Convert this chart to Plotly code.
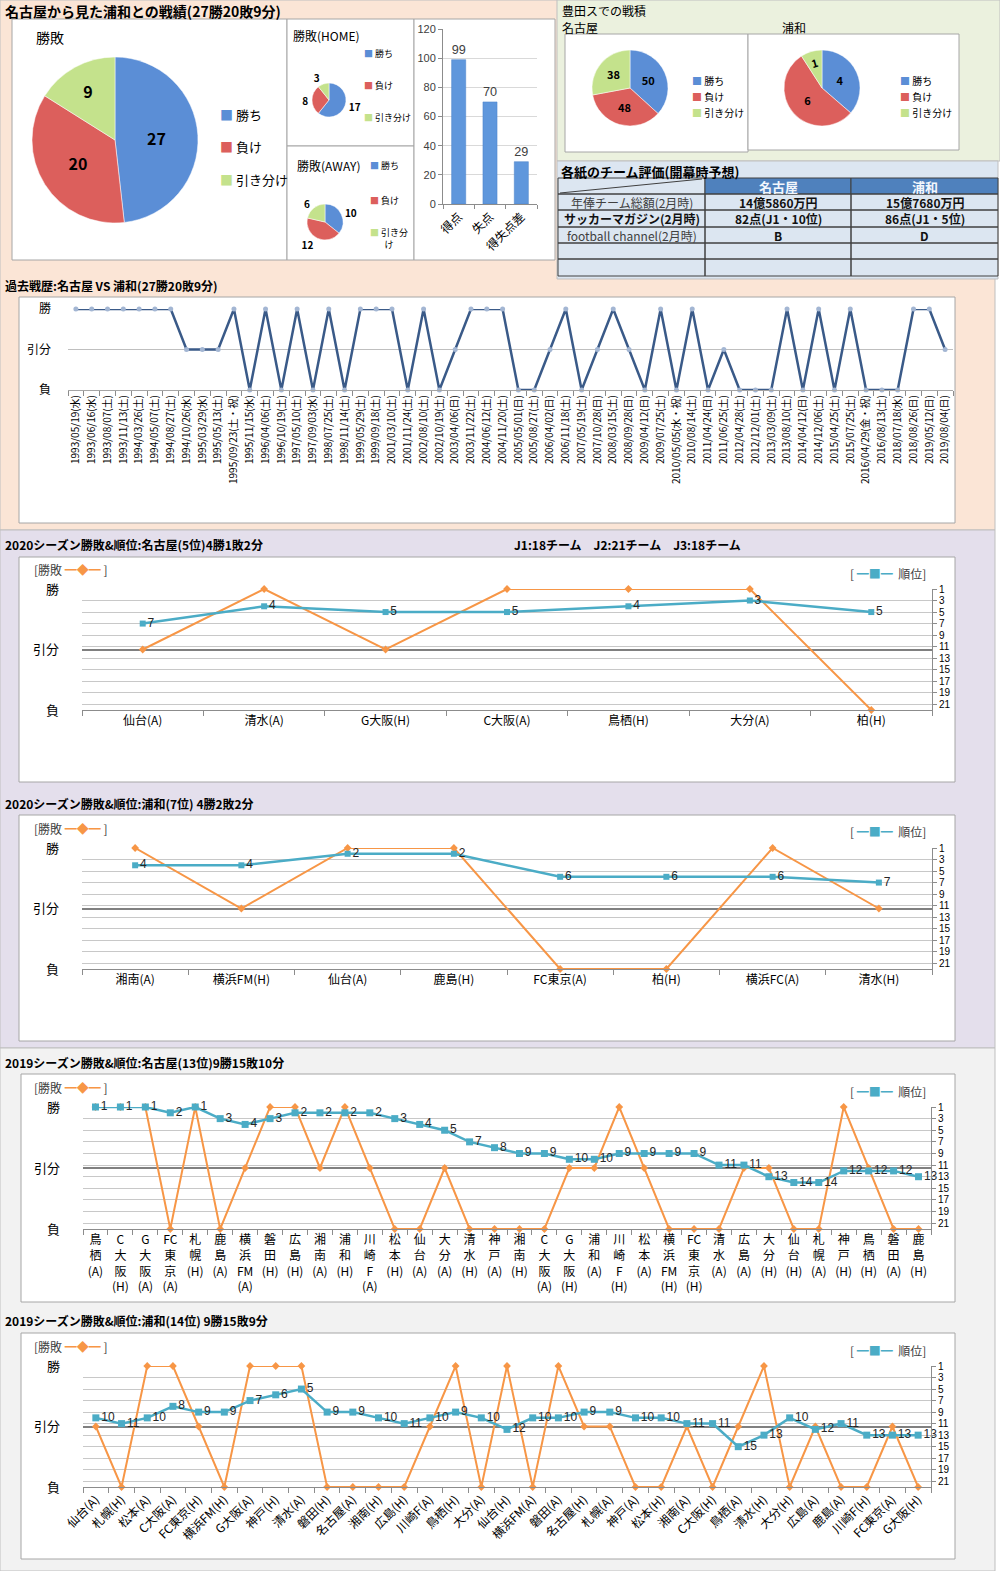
import plotly.graph_objects as go

# ---------------- data ----------------
result_labels = ["勝ち", "負け", "引き分け"]
total_counts = [27, 20, 9]
home_counts = [17, 8, 3]
away_counts = [10, 12, 6]

goal_categories = ["得点", "失点", "得失点差"]
goal_values = [99, 70, 29]

toyota_nagoya_counts = [50, 48, 38]
toyota_urawa_counts = [4, 6, 1]

table_header = ["", "名古屋", "浦和"]
table_row_labels = ["年俸チーム総額(2月時)", "サッカーマガジン(2月時)", "football channel(2月時)", "", ""]
table_nagoya = ["14億5860万円", "82点(J1・10位)", "B", "", ""]
table_urawa = ["15億7680万円", "86点(J1・5位)", "D", "", ""]

history_dates = [
    "1993/05/19(水)", "1993/06/16(水)", "1993/08/07(土)", "1993/11/13(土)", "1994/03/26(土)",
    "1994/05/07(土)", "1994/08/27(土)", "1994/10/26(水)", "1995/03/29(水)", "1995/05/13(土)",
    "1995/09/23(土・祝)", "1995/11/15(水)", "1996/04/06(土)", "1996/10/19(土)", "1997/05/10(土)",
    "1997/09/03(水)", "1998/07/25(土)", "1998/11/14(土)", "1999/05/29(土)", "1999/09/18(土)",
    "2001/03/10(土)", "2001/11/24(土)", "2002/08/10(土)", "2002/10/19(土)", "2003/04/06(日)",
    "2003/11/22(土)", "2004/06/12(土)", "2004/11/20(土)", "2005/05/01(日)", "2005/08/27(土)",
    "2006/04/02(日)", "2006/11/18(土)", "2007/05/19(土)", "2007/10/28(日)", "2008/03/15(土)",
    "2008/09/28(日)", "2009/04/12(日)", "2009/07/25(土)", "2010/05/05(水・祝)", "2010/08/14(土)",
    "2011/04/24(日)", "2011/06/25(土)", "2012/04/28(土)", "2012/12/01(土)", "2013/03/09(土)",
    "2013/08/10(土)", "2014/04/12(日)", "2014/12/06(土)", "2015/04/25(土)", "2015/07/25(土)",
    "2016/04/29(金・祝)", "2016/08/13(土)", "2018/07/18(水)", "2018/08/26(日)", "2019/05/12(日)",
    "2019/08/04(日)",
]
history_results = [
    "勝", "勝", "勝", "勝", "勝", "勝", "勝", "分", "分", "分",
    "勝", "負", "勝", "負", "勝", "負", "勝", "負", "勝", "勝",
    "勝", "負", "勝", "負", "分", "勝", "勝", "勝", "負", "負",
    "分", "勝", "負", "分", "勝", "分", "負", "勝", "負", "勝",
    "負", "分", "負", "負", "負", "勝", "負", "勝", "負", "勝",
    "負", "負", "負", "勝", "勝", "分",
]

nagoya2020_opponents = ["仙台(A)", "清水(A)", "G大阪(H)", "C大阪(A)", "鳥栖(H)", "大分(A)", "柏(H)"]
nagoya2020_results = ["分", "勝", "分", "勝", "勝", "勝", "負"]
nagoya2020_ranks = [7, 4, 5, 5, 4, 3, 5]

urawa2020_opponents = ["湘南(A)", "横浜FM(H)", "仙台(A)", "鹿島(H)", "FC東京(A)", "柏(H)", "横浜FC(A)", "清水(H)"]
urawa2020_results = ["勝", "分", "勝", "勝", "負", "負", "勝", "分"]
urawa2020_ranks = [4, 4, 2, 2, 6, 6, 6, 7]

nagoya2019_opponents = [
    "鳥栖(A)", "C大阪(H)", "G大阪(A)", "FC東京(A)", "札幌(H)", "鹿島(A)", "横浜FM(A)", "磐田(H)",
    "広島(H)", "湘南(A)", "浦和(H)", "川崎F(A)", "松本(H)", "仙台(A)", "大分(A)", "清水(H)",
    "神戸(A)", "湘南(H)", "C大阪(A)", "G大阪(H)", "浦和(A)", "川崎F(H)", "松本(A)", "横浜FM(H)",
    "FC東京(H)", "清水(A)", "広島(A)", "大分(H)", "仙台(H)", "札幌(A)", "神戸(H)", "鳥栖(H)",
    "磐田(A)", "鹿島(H)",
]
nagoya2019_results = [
    "勝", "勝", "勝", "負", "勝", "負", "分", "勝", "勝", "分", "勝", "分", "負", "負", "分", "負",
    "負", "負", "負", "分", "分", "勝", "分", "負", "負", "負", "分", "分", "負", "負", "勝", "分",
    "負", "負",
]
nagoya2019_ranks = [1, 1, 1, 2, 1, 3, 4, 3, 2, 2, 2, 2, 3, 4, 5, 7, 8, 9, 9, 10, 10, 9, 9, 9, 9,
                    11, 11, 13, 14, 14, 12, 12, 12, 13]

urawa2019_opponents = [
    "仙台(A)", "札幌(H)", "松本(A)", "C大阪(A)", "FC東京(H)", "横浜FM(H)", "G大阪(A)", "神戸(H)",
    "清水(A)", "磐田(H)", "名古屋(A)", "湘南(H)", "広島(H)", "川崎F(A)", "鳥栖(H)", "大分(A)",
    "仙台(H)", "横浜FM(A)", "磐田(A)", "名古屋(H)", "札幌(A)", "神戸(A)", "松本(H)", "湘南(A)",
    "C大阪(H)", "鳥栖(A)", "清水(H)", "大分(H)", "広島(A)", "鹿島(A)", "川崎F(H)", "FC東京(A)",
    "G大阪(H)",
]
urawa2019_results = [
    "分", "負", "勝", "勝", "分", "負", "勝", "勝", "勝", "負", "負", "負", "負", "分", "勝", "負",
    "勝", "負", "勝", "分", "分", "負", "負", "分", "負", "分", "勝", "負", "分", "負", "負", "分",
    "負",
]
urawa2019_ranks = [10, 11, 10, 8, 9, 9, 7, 6, 5, 9, 9, 10, 11, 10, 9, 10, 12, 10, 10, 9, 9, 10, 10,
                   11, 11, 15, 13, 10, 12, 11, 13, 13, 13]

result_axis_labels = ["負", "引分", "勝"]
RESULT_VALUE = {"勝": 1, "分": 0, "負": -1}

# ---------------- styling ----------------
W, H = 1000, 1571
FONT = "Noto Sans CJK JP, Noto Sans, sans-serif"
NUM_FONT = "Liberation Sans, Arial, sans-serif"
PIE_COLORS = ["#5B8ED6", "#DC5F5C", "#C4E28C"]
ORANGE = "#F79646"
TEAL = "#4BACC6"
AXIS_GRAY = "#8C8C8C"
GRID = "#C8C8C8"
DARK_GRID = "#808080"


def X(px):
    return px / W


def Y(py):
    return 1 - py / H


def ann(text, px, py, size=12, bold=False, color="#000000", xanchor="left", family=FONT):
    return dict(text=("<b>%s</b>" % text) if bold else text, x=X(px), y=Y(py),
                xref="paper", yref="paper", xanchor=xanchor, yanchor="middle",
                showarrow=False, font=dict(size=size, color=color, family=family))


def rect(x0, y0, x1, y1, fill, line="#A6A6A6", width=1, layer="below"):
    return dict(type="rect", xref="paper", yref="paper", x0=X(x0), x1=X(x1),
                y0=Y(y1), y1=Y(y0), fillcolor=fill, line=dict(color=line, width=width),
                layer=layer)


def stack_label(label):
    tokens, buf = [], ""
    for ch in label:
        if ord(ch) < 128:
            if ch == "(" and buf:
                tokens.append(buf)
                buf = ""
            buf += ch
        else:
            if buf:
                tokens.append(buf)
                buf = ""
            tokens.append(ch)
    if buf:
        tokens.append(buf)
    return "<br>".join(tokens)


fig = go.Figure()
shapes = []
annotations = []
layout_axes = {}

# ---------------- backgrounds ----------------
shapes.append(rect(0, 0, 995, 530, "#FBE5D6", line="#BFBFBF"))
shapes.append(rect(557, 0, 1000, 161, "#EBF1DE", line="#BFBFBF"))
shapes.append(rect(557, 161, 998, 279, "#DCE6F1", line="#BFBFBF"))
shapes.append(rect(0, 530, 995, 1048, "#E4DFEC", line="#BFBFBF"))
shapes.append(rect(0, 1048, 995, 1571, "#F2F2F2", line="#BFBFBF"))

shapes.append(rect(12, 19, 287, 260, "#FFFFFF"))
shapes.append(rect(287, 19, 414, 146, "#FFFFFF"))
shapes.append(rect(287, 146, 414, 260, "#FFFFFF"))
shapes.append(rect(414, 19, 555, 260, "#FFFFFF"))
shapes.append(rect(565, 34, 748, 152, "#FFFFFF"))
shapes.append(rect(748, 34, 959, 150, "#FFFFFF"))
shapes.append(rect(19, 297, 955, 523, "#FFFFFF"))
shapes.append(rect(19, 557, 955, 782, "#FFFFFF"))
shapes.append(rect(19, 815, 955, 1041, "#FFFFFF"))
shapes.append(rect(21, 1074, 955, 1302, "#FFFFFF"))
shapes.append(rect(21, 1333, 955, 1559, "#FFFFFF"))


# ---------------- pies ----------------
def add_pie(values, cx, cy, r, textsize, textpos="inside"):
    fig.add_trace(go.Pie(
        labels=result_labels, values=values, sort=False, direction="clockwise",
        marker=dict(colors=PIE_COLORS, line=dict(color="#FFFFFF", width=0.5)),
        texttemplate="<b>%{value}</b>", textposition=textpos,
        textfont=dict(size=textsize, color="#000000", family=FONT),
        domain=dict(x=[X(cx - r), X(cx + r)], y=[Y(cy + r), Y(cy - r)]),
        showlegend=False, hoverinfo="label+value", automargin=False,
    ))


add_pie(total_counts, 115, 140, 83, 16)
add_pie(home_counts, 329, 100, 17, 10, "outside")
add_pie(away_counts, 325, 222, 18, 10, "outside")
add_pie(toyota_nagoya_counts, 630, 88, 38, 11)
add_pie(toyota_urawa_counts, 822, 88, 38, 11)


def pie_legend(px, pys, size, labels=result_labels):
    for lab, col, py in zip(labels, PIE_COLORS, pys):
        annotations.append(ann("<span style='color:%s'>■</span> %s" % (col, lab), px, py, size=size))


pie_legend(218, [115, 147, 180], 13)
pie_legend(362, [53, 85, 117], 9)
pie_legend(368, [166, 200, 238], 9, labels=["勝ち", "負け", "引き分<br>け"])
pie_legend(690, [81, 97, 112], 10)
pie_legend(898, [81, 97, 112], 10)

annotations.append(ann("勝敗", 34, 37, size=14))
annotations.append(ann("勝敗(HOME)", 291, 35, size=12))
annotations.append(ann("勝敗(AWAY)", 295, 166, size=12))

# ---------------- bar chart ----------------
fig.add_trace(go.Bar(
    x=goal_categories, y=goal_values, xaxis="x", yaxis="y",
    marker=dict(color="#5F97DC", line=dict(color="#4A80C8", width=0.5)), width=0.45,
    text=goal_values, textposition="outside", cliponaxis=False,
    textfont=dict(size=13, color="#404040", family=NUM_FONT), showlegend=False,
))
layout_axes["xaxis"] = dict(domain=[X(443), X(537)], anchor="y", type="category", automargin=False,
                            tickangle=-45, tickfont=dict(size=12, color="#000"),
                            tickson="boundaries", ticks="outside", ticklen=4, tickcolor=AXIS_GRAY,
                            showline=True, linecolor=AXIS_GRAY, showgrid=False)
layout_axes["yaxis"] = dict(domain=[Y(204), Y(29)], anchor="x", range=[0, 120], dtick=20,
                            automargin=False,
                            showgrid=True, gridcolor="#D9D9D9", zeroline=False,
                            showline=True, linecolor=AXIS_GRAY, ticks="outside", ticklen=4,
                            tickcolor=AXIS_GRAY, tickfont=dict(size=11, color="#404040", family=NUM_FONT))

# ---------------- table (drawn as cells) ----------------
col_edges = [558, 705, 851, 998]
row_edges = [178, 194, 210, 227, 243, 259, 276]
table_columns = [table_row_labels, table_nagoya, table_urawa]
for c in range(3):
    x0, x1 = col_edges[c], col_edges[c + 1]
    head_fill = "#4F81BD" if table_header[c] else "#DCE6F1"
    shapes.append(rect(x0, row_edges[0], x1, row_edges[1], head_fill, line="#404040", layer="above"))
    if table_header[c]:
        annotations.append(ann(table_header[c], (x0 + x1) / 2, (row_edges[0] + row_edges[1]) / 2,
                               size=13, bold=True, color="#F2F6FC", xanchor="center"))
    for r, val in enumerate(table_columns[c]):
        y0, y1 = row_edges[r + 1], row_edges[r + 2]
        shapes.append(rect(x0, y0, x1, y1, "rgba(0,0,0,0)", line="#404040", layer="above"))
        if val:
            strong = c > 0 or r == 1
            annotations.append(ann(val, (x0 + x1) / 2, (y0 + y1) / 2, size=12, bold=strong,
                                   color="#111111" if strong else "#404040", xanchor="center"))
shapes.append(dict(type="line", xref="paper", yref="paper", x0=X(560), y0=Y(193), x1=X(702),
                   y1=Y(179), line=dict(color="#404040", width=1), layer="above"))

# ---------------- history chart ----------------
fig.add_trace(go.Scatter(
    x=history_dates, y=[RESULT_VALUE[r] for r in history_results], xaxis="x2", yaxis="y2",
    mode="lines+markers", line=dict(color="#3A5A88", width=2.5),
    marker=dict(size=5, color="#A3B6D3"), cliponaxis=False, showlegend=False,
))
layout_axes["xaxis2"] = dict(domain=[X(68), X(953)], anchor="y2", type="category", automargin=False,
                             categoryorder="array", categoryarray=history_dates,
                             range=[-0.5, len(history_dates) - 0.5],
                             tickmode="array", tickvals=history_dates, ticktext=history_dates,
                             tickangle=-90, tickfont=dict(size=10, color="#000"),
                             tickson="boundaries", ticks="outside", ticklen=5, tickcolor=AXIS_GRAY,
                             showline=True, linecolor="#A6A6A6", showgrid=False)
layout_axes["yaxis2"] = dict(domain=[Y(390), Y(309)], anchor="x2", range=[-1, 1], automargin=False,
                             tickmode="array", tickvals=[-1, 0, 1], ticktext=result_axis_labels,
                             showgrid=True, gridcolor="#BFBFBF", zeroline=False,
                             ticklabelstandoff=16, tickfont=dict(size=12, color="#000"))


# ---------------- season charts ----------------
def add_season(n_x, n_yl, n_yr, opponents, results, ranks, top, bottom, x0, x1,
               ticktext, tickangle, tickfont_size, marker_size, label_size):
    fig.add_trace(go.Scatter(
        x=opponents, y=[RESULT_VALUE[r] for r in results], xaxis="x%d" % n_x, yaxis="y%d" % n_yl,
        mode="lines+markers", line=dict(color=ORANGE, width=2),
        marker=dict(symbol="diamond", size=6, color=ORANGE), cliponaxis=False, showlegend=False,
    ))
    fig.add_trace(go.Scatter(
        x=opponents, y=ranks, xaxis="x%d" % n_x, yaxis="y%d" % n_yr,
        mode="lines+markers+text", text=[str(r) for r in ranks], textposition="middle right",
        textfont=dict(size=label_size, color="#262626", family=NUM_FONT),
        line=dict(color=TEAL, width=2.5), marker=dict(symbol="square", size=marker_size, color=TEAL),
        cliponaxis=False, showlegend=False,
    ))
    layout_axes["xaxis%d" % n_x] = dict(
        domain=[X(x0), X(x1)], anchor="y%d" % n_yl, type="category", automargin=False,
        categoryorder="array", categoryarray=opponents, range=[-0.5, len(opponents) - 0.5],
        tickmode="array", tickvals=opponents, ticktext=ticktext, tickangle=tickangle,
        tickfont=dict(size=tickfont_size, color="#000"), tickson="boundaries", ticks="outside",
        ticklen=5, tickcolor=AXIS_GRAY, showline=True, linecolor=AXIS_GRAY, showgrid=False)
    layout_axes["yaxis%d" % n_yl] = dict(
        domain=[Y(bottom), Y(top)], anchor="x%d" % n_x, range=[-1, 1], tickmode="array",
        automargin=False,
        tickvals=[-1, 0, 1], ticktext=result_axis_labels, showgrid=True, gridcolor=DARK_GRID,
        gridwidth=2, zeroline=False, ticklabelstandoff=22, tickfont=dict(size=13, color="#000"))
    layout_axes["yaxis%d" % n_yr] = dict(
        overlaying="y%d" % n_yl, side="right", anchor="x%d" % n_x, range=[22, 1], automargin=False,
        tickmode="array", tickvals=list(range(1, 22, 2)), showgrid=False,
        minor=dict(tickmode="array", tickvals=list(range(3, 22, 2)), showgrid=True,
                   gridcolor=GRID, gridwidth=1),
        zeroline=False, showline=True, linecolor=AXIS_GRAY, ticks="outside", ticklen=4,
        tickcolor=AXIS_GRAY, tickfont=dict(size=10, color="#000", family=NUM_FONT))
    annotations.append(ann("[勝敗 <span style='color:%s'>━◆━</span> ]" % ORANGE, 32, top - 20, size=12,
                           color="#404040"))
    annotations.append(ann("[ <span style='color:%s'>━■━</span>  順位]" % TEAL, 928, top - 16, size=12,
                           color="#404040", xanchor="right"))


add_season(3, 3, 4, nagoya2020_opponents, nagoya2020_results, nagoya2020_ranks, 589, 710, 82, 932,
           nagoya2020_opponents, 0, 12, 6, 12)
add_season(4, 5, 6, urawa2020_opponents, urawa2020_results, urawa2020_ranks, 848, 969, 82, 932,
           urawa2020_opponents, 0, 12, 6, 12)
add_season(5, 7, 8, nagoya2019_opponents, nagoya2019_results, nagoya2019_ranks, 1107, 1229, 83, 931,
           [stack_label(o) for o in nagoya2019_opponents], 0, 12, 7, 12)
add_season(6, 9, 10, urawa2019_opponents, urawa2019_results, urawa2019_ranks, 1366, 1487, 83, 931,
           urawa2019_opponents, -45, 12, 7, 12)

# ---------------- titles ----------------
annotations.append(ann("名古屋から見た浦和との戦績(27勝20敗9分)", 3, 11, size=14, bold=True))
annotations.append(ann("豊田スでの戦積", 560, 10, size=12))
annotations.append(ann("名古屋", 560, 27, size=12))
annotations.append(ann("浦和", 780, 27, size=12))
annotations.append(ann("各紙のチーム評価(開幕時予想)", 559, 171, size=13, bold=True))
annotations.append(ann("過去戦歴:名古屋 VS 浦和(27勝20敗9分)", 3, 285, size=12, bold=True))
annotations.append(ann("2020シーズン勝敗&順位:名古屋(5位)4勝1敗2分", 3, 544, size=12, bold=True))
annotations.append(ann("J1:18チーム　J2:21チーム　J3:18チーム", 512, 544, size=12, bold=True))
annotations.append(ann("2020シーズン勝敗&順位:浦和(7位) 4勝2敗2分", 3, 803, size=12, bold=True))
annotations.append(ann("2019シーズン勝敗&順位:名古屋(13位)9勝15敗10分", 3, 1062, size=12, bold=True))
annotations.append(ann("2019シーズン勝敗&順位:浦和(14位) 9勝15敗9分", 3, 1320, size=12, bold=True))

fig.update_layout(
    width=W, height=H, margin=dict(l=0, r=0, t=0, b=0, autoexpand=False),
    paper_bgcolor="#FFFFFF", plot_bgcolor="rgba(0,0,0,0)",
    font=dict(family=FONT, size=12, color="#000000"),
    shapes=shapes, annotations=annotations, showlegend=False,
    **layout_axes,
)

fig.write_html("out.html", config={"displayModeBar": False},
               post_script="document.body.style.margin='0';")
